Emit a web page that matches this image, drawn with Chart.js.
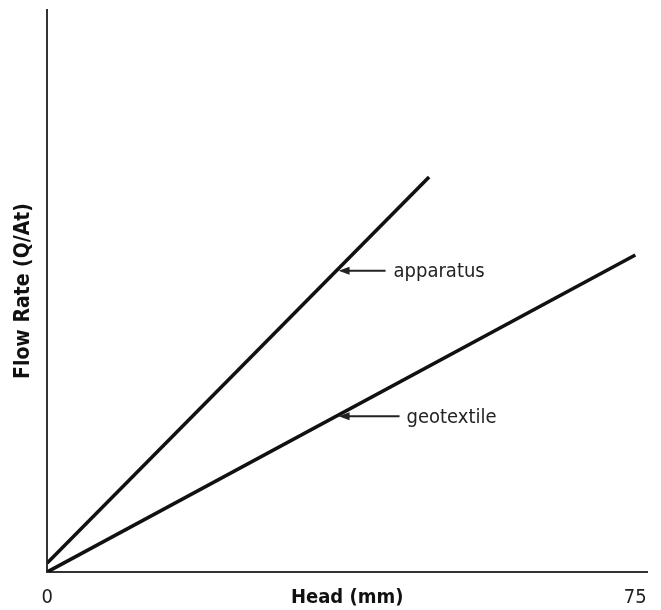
<!DOCTYPE html>
<html>
<head>
<meta charset="utf-8">
<script src="https://cdn.jsdelivr.net/npm/chart.js@4/dist/chart.umd.min.js"></script>
<style>
  html, body { margin: 0; padding: 0; background: #fff; }
  #wrap { width: 661px; height: 610px; }
</style>
</head>
<body>
<div id="wrap"><canvas id="chart" width="661" height="610"></canvas></div>
<script>
// Head (mm) vs flow rate (y axis has no units, 0-100)
const headTicks = [0, 75];
const apparatusX = [0, 48.7];
const apparatusY = [1.6, 70.3];
const geotextileX = [0, 75];
const geotextileY = [0, 56.4];

// callouts: text and where the arrow tip touches the line
const calloutText = ['apparatus', 'geotextile'];
const calloutX = [36.9, 36.9];
const calloutY = [53.6, 27.7];

const FONT = '"DejaVu Sans Condensed", "DejaVu Sans", sans-serif';
const INK = '#111';

const toPoints = (xs, ys) => xs.map((x, i) => ({x: x, y: ys[i]}));

// arrows + labels pointing at the lines
const calloutPlugin = {
  id: 'callouts',
  afterDatasetsDraw(chart) {
    const {ctx, scales: {x, y}} = chart;
    const tails = [47, 61], gaps = [8, 7];
    ctx.save();
    calloutText.forEach((txt, i) => {
      const tx = x.getPixelForValue(calloutX[i]) + 2;
      const ty = y.getPixelForValue(calloutY[i]);
      ctx.strokeStyle = '#222';
      ctx.fillStyle = '#222';
      ctx.lineWidth = 2;
      ctx.beginPath();
      ctx.moveTo(tx + 9, ty);
      ctx.lineTo(tx + tails[i], ty);
      ctx.stroke();
      ctx.beginPath();
      ctx.moveTo(tx, ty);
      ctx.lineTo(tx + 11, ty - 4);
      ctx.lineTo(tx + 11, ty + 4);
      ctx.closePath();
      ctx.fill();
      ctx.font = '20px ' + FONT;
      ctx.textBaseline = 'middle';
      ctx.textAlign = 'left';
      ctx.fillText(txt, tx + tails[i] + gaps[i], ty + 1);
    });
    ctx.restore();
  }
};

new Chart(document.getElementById('chart'), {
  type: 'line',
  data: {
    datasets: [
      {label: 'apparatus', data: toPoints(apparatusX, apparatusY)},
      {label: 'geotextile', data: toPoints(geotextileX, geotextileY)}
    ]
  },
  options: {
    responsive: false,
    animation: false,
    layout: {padding: {top: 10, right: 12, left: 1, bottom: 0}},
    elements: {
      line: {borderColor: INK, borderWidth: 3.6, tension: 0},
      point: {radius: 0}
    },
    plugins: {legend: {display: false}, tooltip: {enabled: false}},
    scales: {
      x: {
        type: 'linear',
        min: 0,
        max: 76.5,
        afterBuildTicks: axis => { axis.ticks = headTicks.map(v => ({value: v})); },
        grid: {display: false, drawTicks: false},
        border: {display: true, color: '#333', width: 2},
        ticks: {
          padding: 14,
          color: '#222',
          font: {family: FONT, size: 20},
          maxRotation: 0
        },
        title: {
          display: true,
          text: 'Head (mm)',
          color: '#111',
          font: {family: FONT, size: 20, weight: 'bold'},
          padding: {top: -38, bottom: 0}
        }
      },
      y: {
        min: 0,
        max: 100,
        grid: {display: false, drawTicks: false},
        border: {display: true, color: '#333', width: 2},
        ticks: {display: false},
        title: {
          display: true,
          text: 'Flow Rate (Q/At)',
          color: '#111',
          font: {family: FONT, size: 21, weight: 'bold'},
          padding: {top: 10, bottom: 11}
        }
      }
    }
  },
  plugins: [calloutPlugin]
});
</script>
</body>
</html>
